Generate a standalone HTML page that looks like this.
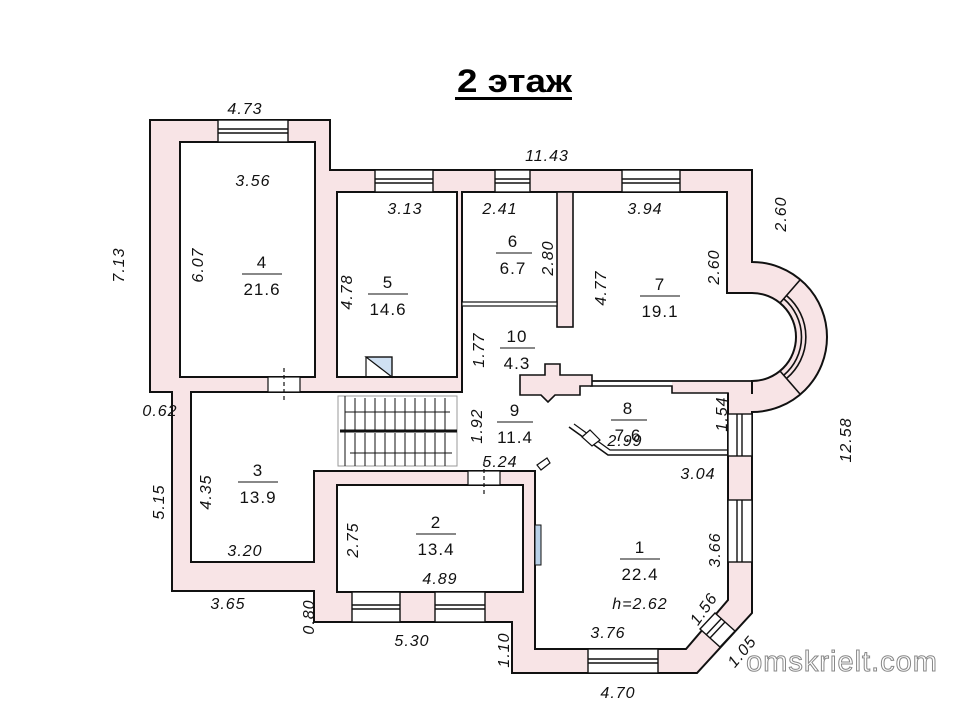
<!DOCTYPE html>
<html><head><meta charset="utf-8"><style>
html,body{margin:0;padding:0;background:#fff;}
svg{display:block;}
text{font-family:"Liberation Sans",sans-serif;}
.d{font-size:16px;font-style:italic;fill:#111;letter-spacing:1px;}
.n{font-size:17px;fill:#111;letter-spacing:1px;}
</style></head><body>
<svg width="980" height="707" viewBox="0 0 980 707" xmlns="http://www.w3.org/2000/svg">
<rect width="980" height="707" fill="#fff"/>
<text x="457" y="92" font-size="32" font-weight="bold" fill="#000" textLength="115" lengthAdjust="spacingAndGlyphs">2 этаж</text>
<rect x="455" y="97" width="117" height="3" fill="#000"/>

<!-- outer building -->
<path d="M150,120 L330,120 L330,170 L752,170 L752,262 A75,75 0 0 1 752,412 L752,613 L697,673 L512,673 L512,622 L314,622 L314,591 L172,591 L172,392 L150,392 Z" fill="#f8e4e6" stroke="#111" stroke-width="2"/>

<!-- hall -->
<path d="M191,392 L462,392 L462,192 L727,192 L727,293 L752,293 A44,44 0 0 1 752,381 L752,393 L728,393 L728,600 L686,649 L535,649 L535,471 L314,471 L314,562 L191,562 Z" fill="#fff" stroke="#111" stroke-width="2"/>
<rect x="672" y="382" width="79" height="11" fill="#f8e4e6"/>
<rect x="729" y="382" width="22" height="32" fill="#f8e4e6"/>
<polyline points="590,381 752,381" fill="none" stroke="#111" stroke-width="1.8"/>
<polyline points="590,386 672,386 672,393 728,393 728,455" fill="none" stroke="#111" stroke-width="1.6"/>
<!-- bay window -->
<g fill="none" stroke="#111" stroke-width="1.6">
<path d="M784,299 A50,50 0 0 1 784,375"/>
<path d="M787,296 A54,54 0 0 1 787,378"/>
<line x1="780" y1="303" x2="800" y2="280"/>
<line x1="780" y1="371" x2="800" y2="394"/>
</g>
<!-- room 7 bottom blob -->
<path d="M520,375 L545,375 L545,364 L560,364 L560,375 L592,375 L592,386 L580,386 L580,395 L555,395 L548,402 L541,395 L520,395 Z" fill="#f8e4e6" stroke="#111" stroke-width="1.6"/>
<!-- stub wall -->
<rect x="557" y="192" width="16" height="135" fill="#f8e4e6" stroke="#111" stroke-width="1.6"/>
<!-- room 6/10 partition -->
<rect x="462" y="302" width="95" height="4" fill="#fff" stroke="#111" stroke-width="1.2"/>
<!-- room 8/1 partition -->
<path d="M569,427 L608,455 L728,455" fill="none" stroke="#111" stroke-width="1.6"/>
<path d="M574,424 L610,450 L728,450" fill="none" stroke="#111" stroke-width="1.2"/>
<path d="M582,437 L590,430 L600,440 L592,446 Z" fill="#fff" stroke="#111" stroke-width="1.2"/>
<path d="M537,465 L547,458 L550,463 L541,470 Z" fill="#fff" stroke="#111" stroke-width="1.2"/>
<rect x="535" y="525" width="6" height="40" fill="#b8d0e8" stroke="#111" stroke-width="1"/>

<!-- rooms -->
<rect x="180" y="142" width="135" height="235" fill="#fff" stroke="#111" stroke-width="2"/>
<rect x="337" y="192" width="120" height="185" fill="#fff" stroke="#111" stroke-width="2"/>
<rect x="337" y="485" width="186" height="107" fill="#fff" stroke="#111" stroke-width="2"/>
<path d="M366,357 L392,357 L392,377 Z" fill="#cfe0f2" stroke="#111" stroke-width="1.2"/>
<rect x="366" y="357" width="26" height="20" fill="none" stroke="#111" stroke-width="1.2"/>

<!-- stairs -->
<g stroke="#111" stroke-width="1">
<rect x="338" y="396" width="119" height="70" fill="#fff" stroke="#999"/>
<line x1="340" y1="431" x2="457" y2="431" stroke-width="3"/>
<line x1="345" y1="396" x2="345" y2="466"/><line x1="355" y1="398" x2="355" y2="430"/><line x1="365" y1="398" x2="365" y2="430"/><line x1="375" y1="398" x2="375" y2="430"/><line x1="385" y1="398" x2="385" y2="430"/><line x1="395" y1="398" x2="395" y2="430"/><line x1="405" y1="398" x2="405" y2="430"/><line x1="415" y1="398" x2="415" y2="430"/><line x1="425" y1="398" x2="425" y2="430"/><line x1="435" y1="398" x2="435" y2="430"/><line x1="445" y1="398" x2="445" y2="430"/>
<line x1="355" y1="433" x2="355" y2="466"/><line x1="365" y1="433" x2="365" y2="466"/><line x1="375" y1="433" x2="375" y2="466"/><line x1="385" y1="433" x2="385" y2="466"/><line x1="395" y1="433" x2="395" y2="466"/><line x1="405" y1="433" x2="405" y2="466"/><line x1="415" y1="433" x2="415" y2="466"/><line x1="425" y1="433" x2="425" y2="466"/><line x1="435" y1="433" x2="435" y2="466"/><line x1="445" y1="433" x2="445" y2="466"/>
<line x1="345" y1="412" x2="450" y2="412"/><line x1="350" y1="453" x2="452" y2="453"/>
</g>

<!-- windows -->
<g fill="#fff" stroke="#111" stroke-width="1.4">
<rect x="218" y="120" width="70" height="22"/><line x1="218" y1="129" x2="288" y2="129"/><line x1="218" y1="133" x2="288" y2="133"/>
<rect x="375" y="170" width="58" height="22"/><line x1="375" y1="179" x2="433" y2="179"/><line x1="375" y1="183" x2="433" y2="183"/>
<rect x="495" y="170" width="35" height="22"/><line x1="495" y1="179" x2="530" y2="179"/><line x1="495" y1="183" x2="530" y2="183"/>
<rect x="622" y="170" width="58" height="22"/><line x1="622" y1="179" x2="680" y2="179"/><line x1="622" y1="183" x2="680" y2="183"/>
<rect x="728" y="414" width="24" height="42"/><line x1="737" y1="414" x2="737" y2="456"/><line x1="742" y1="414" x2="742" y2="456"/>
<rect x="728" y="500" width="24" height="62"/><line x1="737" y1="500" x2="737" y2="562"/><line x1="742" y1="500" x2="742" y2="562"/>
<rect x="352" y="592" width="48" height="30"/><line x1="352" y1="605" x2="400" y2="605"/><line x1="352" y1="609" x2="400" y2="609"/>
<rect x="435" y="592" width="50" height="30"/><line x1="435" y1="605" x2="485" y2="605"/><line x1="435" y1="609" x2="485" y2="609"/>
<rect x="588" y="649" width="70" height="24"/><line x1="588" y1="659" x2="658" y2="659"/><line x1="588" y1="663" x2="658" y2="663"/>
<path d="M700,629 L715,613 L735,631 L720,647 Z"/><line x1="706" y1="635" x2="721" y2="619"/><line x1="710" y1="638" x2="725" y2="622"/>
</g>
<!-- doors -->
<g fill="#fff" stroke="#111" stroke-width="1.2">
<rect x="268" y="377" width="32" height="15"/><line x1="284" y1="368" x2="284" y2="400" stroke-dasharray="4,3"/>
<rect x="468" y="471" width="32" height="14"/><line x1="484" y1="462" x2="484" y2="494" stroke-dasharray="4,3"/>
</g>

<!-- room labels -->
<g class="n" text-anchor="middle">
<text x="262" y="268">4</text><line x1="242" y1="274" x2="282" y2="274" stroke="#111"/><text x="262" y="295">21.6</text>
<text x="388" y="288">5</text><line x1="368" y1="294" x2="408" y2="294" stroke="#111"/><text x="388" y="315">14.6</text>
<text x="513" y="247">6</text><line x1="496" y1="253" x2="532" y2="253" stroke="#111"/><text x="513" y="274">6.7</text>
<text x="660" y="290">7</text><line x1="640" y1="296" x2="680" y2="296" stroke="#111"/><text x="660" y="317">19.1</text>
<text x="517" y="342">10</text><line x1="500" y1="348" x2="535" y2="348" stroke="#111"/><text x="517" y="369">4.3</text>
<text x="515" y="416">9</text><line x1="497" y1="422" x2="533" y2="422" stroke="#111"/><text x="515" y="443">11.4</text>
<text x="628" y="414">8</text><line x1="611" y1="420" x2="647" y2="420" stroke="#111"/><text x="628" y="441">7.6</text>
<text x="258" y="476">3</text><line x1="238" y1="482" x2="278" y2="482" stroke="#111"/><text x="258" y="503">13.9</text>
<text x="436" y="528">2</text><line x1="416" y1="534" x2="456" y2="534" stroke="#111"/><text x="436" y="555">13.4</text>
<text x="640" y="553">1</text><line x1="620" y1="559" x2="660" y2="559" stroke="#111"/><text x="640" y="580">22.4</text>
</g>

<!-- dimension labels -->
<g class="d" text-anchor="middle">
<text x="245" y="114">4.73</text>
<text x="547" y="161">11.43</text>
<text x="253" y="186">3.56</text>
<text x="405" y="214">3.13</text>
<text x="500" y="214">2.41</text>
<text x="645" y="214">3.94</text>
<text x="160" y="416">0.62</text>
<text x="245" y="556">3.20</text>
<text x="228" y="609">3.65</text>
<text x="440" y="584">4.89</text>
<text x="412" y="646">5.30</text>
<text x="500" y="467">5.24</text>
<text x="625" y="446">2.99</text>
<text x="698" y="479">3.04</text>
<text x="608" y="638">3.76</text>
<text x="618" y="698">4.70</text>
<text x="640" y="609">h=2.62</text>
<text transform="translate(124,265) rotate(-90)">7.13</text>
<text transform="translate(203,265) rotate(-90)">6.07</text>
<text transform="translate(352,292) rotate(-90)">4.78</text>
<text transform="translate(553,258) rotate(-90)">2.80</text>
<text transform="translate(606,288) rotate(-90)">4.77</text>
<text transform="translate(786,214) rotate(-90)">2.60</text>
<text transform="translate(719,267) rotate(-90)">2.60</text>
<text transform="translate(484,350) rotate(-90)">1.77</text>
<text transform="translate(482,426) rotate(-90)">1.92</text>
<text transform="translate(727,414) rotate(-90)">1.54</text>
<text transform="translate(851,440) rotate(-90)">12.58</text>
<text transform="translate(720,550) rotate(-90)">3.66</text>
<text transform="translate(164,502) rotate(-90)">5.15</text>
<text transform="translate(211,492) rotate(-90)">4.35</text>
<text transform="translate(358,540) rotate(-90)">2.75</text>
<text transform="translate(314,617) rotate(-90)">0.80</text>
<text transform="translate(509,650) rotate(-90)">1.10</text>
<text transform="translate(708,612) rotate(-55)">1.56</text>
<text transform="translate(746,655) rotate(-50)">1.05</text>
</g>
<text x="842" y="671" text-anchor="middle" font-size="29" fill="#fff" stroke="#888" stroke-width="1" letter-spacing="1">omskrielt.com</text>
</svg>
</body></html>
